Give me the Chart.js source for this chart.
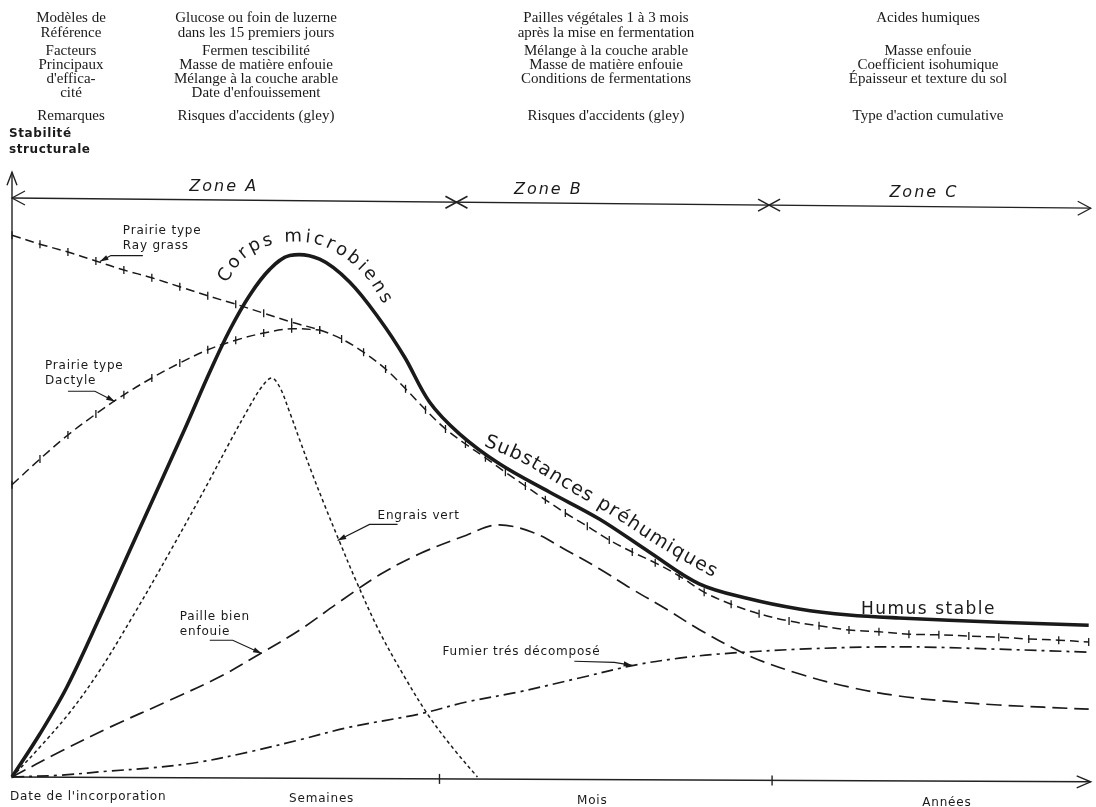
<!DOCTYPE html>
<html lang="fr">
<head>
<meta charset="utf-8">
<script src="https://cdn.jsdelivr.net/npm/chart.js@4"></script>
<style>
  html, body { margin: 0; padding: 0; background: #fff; }
  #wrap { width: 1096px; height: 807px; position: relative; }
</style>
</head>
<body>
<div id="wrap"><canvas id="chart"></canvas></div>
<script>
// x: time since incorporation (arbitrary units), y: stabilité structurale (0-100)

// Corps microbiens -> Substances préhumiques -> Humus stable (thick solid)
const microbesX = [0, 2.8, 5.5, 8.8, 11.8, 14.8, 17.3, 19.8, 21.8, 23.8, 25.8, 27.8, 30.8, 33.8, 36.8, 39.3, 41.8, 44.8, 48.8, 53.8, 58.8, 63.8, 68.8, 73.8, 78.8, 83.8, 88.8, 98.8, 107.8];
const microbesY = [0, 7.2, 15, 26.7, 37.8, 48.8, 58, 67.5, 74.5, 80.3, 84.6, 86.9, 86.3, 82.5, 76.3, 70, 62.5, 57.2, 52.2, 47.5, 43, 37.5, 32.2, 29.7, 28, 27, 26.5, 25.8, 25.3];

// Prairie type Ray grass (dashed with ticks)
const ryeGrassX = [0, 2.8, 5.6, 8.4, 11.2, 14, 16.8, 19.6, 22.4, 25.2, 28, 30.8,
  33, 35.2, 37.4, 39.4, 41.4, 43.4, 45.4, 47.4, 49.4, 51.4, 53.4, 55.4, 57.6, 59.8, 62.1, 64.4, 66.8, 69.3,
  72, 74.8, 77.8, 80.8, 83.8, 86.8, 89.8, 92.8, 95.8, 98.8, 101.8, 104.8, 107.8];
const ryeGrassY = [90.3, 88.8, 87.5, 86, 84.5, 83.2, 81.7, 80.2, 78.8, 77.3, 75.8, 74.5,
  73, 70.8, 68, 64.7, 61.2, 58, 55.5, 53.2, 50.8, 48.5, 46.2, 44, 41.8, 39.5, 37.5, 35.7, 33.5, 30.8,
  28.8, 27.2, 26, 25.2, 24.5, 24.2, 23.8, 23.7, 23.5, 23.3, 23, 22.8, 22.5];

// Prairie type Dactyle (joins Ray grass)
const dactyleX = [0, 2.8, 5.6, 8.4, 11.2, 14, 16.8, 19.6, 22.4, 25.2, 28, 30.8];
const dactyleY = [48.7, 53, 57, 60.5, 63.7, 66.5, 69, 71.2, 72.8, 74, 74.7, 74.5];

// Engrais vert (dotted)
const engraisX = [0, 2.8, 5.8, 8.8, 12.1, 15.8, 19.3, 21.8, 23.8, 25, 26, 26.8, 27.8, 28.8, 30, 31.3, 32.8, 34.5, 36.8, 39.3, 41.8, 44.3, 46.6];
const engraisY = [0, 5, 10.8, 17.8, 26.8, 37.5, 48, 55.8, 61.8, 65, 66.5, 65, 60.8, 56.2, 50.8, 45.3, 39.2, 32.5, 24.2, 16.7, 10, 4.5, 0];

// Paille bien enfouie (long dashes)
const pailleX = [0, 4.8, 9.8, 15.8, 20.8, 24.8, 28.8, 32.8, 36.8, 40.8, 45.5, 48.5, 52.1, 55.5, 58.8, 62.1, 65.5, 68.8, 73.8, 78.8, 83.8, 88.8, 93.8, 98.8, 107.8];
const pailleY = [0, 4.2, 8.3, 12.8, 16.7, 20.5, 24.5, 29.2, 33.7, 37.2, 40.3, 42, 40.8, 37.8, 34.7, 31.3, 28, 24.6, 20.2, 17.2, 15, 13.5, 12.6, 12, 11.3];

// Fumier très décomposé (dash-dot)
const fumierX = [0, 4.8, 9.8, 13.8, 18.8, 23.8, 28.8, 33.8, 40.8, 45.5, 50.8, 56.8, 62.5, 66.8, 70.8, 78.8, 88.8, 98.8, 107.8];
const fumierY = [0, 0.3, 1, 1.5, 2.5, 4.2, 6.2, 8.3, 10.5, 12.5, 14.2, 16.5, 18.7, 19.8, 20.5, 21.3, 21.7, 21.3, 20.8];

// time axis: period labels and the two boundary ticks
const periodLabels = ["Date de l'incorporation", 'Semaines', 'Mois', 'Années'];
const periodLabelX = [0, 31, 58.1, 93.6];
const periodBounds = [42.8, 76.1];

// zones
const zoneLabels = ['Zone A', 'Zone B', 'Zone C'];
const zoneLabelX = [21.2, 53.7, 91.3];
const zoneBounds = [44.5, 75.8];

// header table
const headerCol1 = ['Modèles de', 'Référence', 'Facteurs', 'Principaux', "d'effica-", 'cité', 'Remarques'];
const headerCol2 = ['Glucose ou foin de luzerne', 'dans les 15 premiers jours', 'Fermen tescibilité', 'Masse de matière enfouie', 'Mélange à la couche arable', "Date d'enfouissement", "Risques d'accidents (gley)"];
const headerCol3 = ['Pailles végétales 1 à 3 mois', 'après la mise en fermentation', 'Mélange à la couche arable', 'Masse de matière enfouie', 'Conditions de fermentations', '', "Risques d'accidents (gley)"];
const headerCol4 = ['Acides humiques', '', 'Masse enfouie', 'Coefficient isohumique', 'Épaisseur et texture du sol', '', "Type d'action cumulative"];

const xy = (xs, ys) => xs.map((x, i) => ({ x: x, y: ys[i] }));

const INK = '#1a1a1a';
const SANS = '"DejaVu Sans", sans-serif';

function pt(chart, x, y) {
  return [chart.scales.x.getPixelForValue(x), chart.scales.y.getPixelForValue(y)];
}

function line(ctx, pts) {
  ctx.beginPath();
  ctx.moveTo(pts[0][0], pts[0][1]);
  for (let i = 1; i < pts.length; i++) ctx.lineTo(pts[i][0], pts[i][1]);
  ctx.stroke();
}

// leader line ending in a small filled arrow
function leader(chart, pts) {
  const ctx = chart.ctx;
  const p = pts.map(q => pt(chart, q[0], q[1]));
  ctx.lineWidth = 1.1;
  line(ctx, p);
  const a = p[p.length - 1], b = p[p.length - 2];
  const ang = Math.atan2(a[1] - b[1], a[0] - b[0]);
  ctx.beginPath();
  ctx.moveTo(a[0], a[1]);
  ctx.lineTo(a[0] - 9 * Math.cos(ang - 0.3), a[1] - 9 * Math.sin(ang - 0.3));
  ctx.lineTo(a[0] - 9 * Math.cos(ang + 0.3), a[1] - 9 * Math.sin(ang + 0.3));
  ctx.closePath();
  ctx.fill();
}

// write text along a smooth path, spread to fill it
function textOnPath(chart, text, anchors, font) {
  const ctx = chart.ctx;
  const p = anchors.map(q => pt(chart, q[0], q[1]));
  const dense = [];
  for (let i = 0; i < p.length - 1; i++) {
    const p0 = p[Math.max(i - 1, 0)], p1 = p[i], p2 = p[i + 1], p3 = p[Math.min(i + 2, p.length - 1)];
    for (let k = 0; k < 20; k++) {
      const t = k / 20, t2 = t * t, t3 = t2 * t;
      const f = (a, b, c, d) => 0.5 * (2 * b + (-a + c) * t + (2 * a - 5 * b + 4 * c - d) * t2 + (-a + 3 * b - 3 * c + d) * t3);
      dense.push([f(p0[0], p1[0], p2[0], p3[0]), f(p0[1], p1[1], p2[1], p3[1])]);
    }
  }
  dense.push(p[p.length - 1]);
  const cum = [0];
  for (let i = 1; i < dense.length; i++) {
    cum.push(cum[i - 1] + Math.hypot(dense[i][0] - dense[i - 1][0], dense[i][1] - dense[i - 1][1]));
  }
  const total = cum[cum.length - 1];
  const at = s => {
    let i = 1;
    while (i < cum.length - 1 && cum[i] < s) i++;
    const a = dense[i - 1], b = dense[i];
    const t = (s - cum[i - 1]) / ((cum[i] - cum[i - 1]) || 1);
    return [a[0] + (b[0] - a[0]) * t, a[1] + (b[1] - a[1]) * t, Math.atan2(b[1] - a[1], b[0] - a[0])];
  };
  ctx.font = font;
  ctx.letterSpacing = '0px';
  ctx.textAlign = 'center';
  ctx.textBaseline = 'alphabetic';
  const chars = [...text];
  const widths = chars.map(c => ctx.measureText(c).width);
  const sum = widths.reduce((a, b) => a + b, 0);
  const gap = (total - sum) / (chars.length - 1);
  let s = 0;
  chars.forEach((c, i) => {
    const q = at(s + widths[i] / 2);
    ctx.save();
    ctx.translate(q[0], q[1]);
    ctx.rotate(q[2]);
    ctx.fillText(c, 0, 0);
    ctx.restore();
    s += widths[i] + gap;
  });
}

function label(chart, text, x, y, font, spacing, align) {
  const ctx = chart.ctx;
  const p = pt(chart, x, y);
  ctx.font = font;
  ctx.letterSpacing = spacing || '0px';
  ctx.textAlign = align || 'left';
  ctx.textBaseline = 'alphabetic';
  ctx.fillText(text, p[0], p[1]);
}

const drawing = {
  id: 'drawing',
  beforeDatasetsDraw(chart) {
    const ctx = chart.ctx;
    ctx.save();
    ctx.strokeStyle = '#222';
    ctx.fillStyle = INK;
    ctx.lineWidth = 1.4;

    // stabilité axis
    const yTop = pt(chart, 0, 100.8);
    line(ctx, [pt(chart, 0, -0.2), yTop]);
    line(ctx, [[yTop[0] - 5, yTop[1] + 13], yTop, [yTop[0] + 5, yTop[1] + 13]]);

    // time axis (slightly skewed like the scan)
    const slope = -0.8 / 108;
    const xEnd = pt(chart, 108, -0.8);
    line(ctx, [pt(chart, 0, 0), xEnd]);
    line(ctx, [[xEnd[0] - 14, xEnd[1] - 6], xEnd, [xEnd[0] - 14, xEnd[1] + 6]]);
    periodBounds.forEach(b => {
      const p = pt(chart, b, b * slope);
      line(ctx, [[p[0], p[1] - 5], [p[0], p[1] + 5]]);
    });

    // zone line
    const zSlope = -1.7 / 108;
    const z0 = pt(chart, 0, 96.5), z1 = pt(chart, 108, 96.5 - 1.7);
    ctx.lineWidth = 1.3;
    line(ctx, [z0, z1]);
    line(ctx, [[z0[0] + 13, z0[1] - 7], z0, [z0[0] + 13, z0[1] + 7]]);
    line(ctx, [[z1[0] - 13, z1[1] - 7], z1, [z1[0] - 13, z1[1] + 7]]);
    ctx.lineWidth = 1.6;
    zoneBounds.forEach(b => {
      const p = pt(chart, b, 96.5 + b * zSlope);
      line(ctx, [[p[0] - 11, p[1] - 6], [p[0] + 11, p[1] + 6]]);
      line(ctx, [[p[0] - 11, p[1] + 6], [p[0] + 11, p[1] - 6]]);
    });
    ctx.restore();
  },
  afterDatasetsDraw(chart) {
    const ctx = chart.ctx;
    ctx.save();
    ctx.fillStyle = INK;
    ctx.strokeStyle = INK;

    // header table (serif, centred columns)
    const rows = [18, 33, 51, 65, 79, 93, 116];
    const cols = [[headerCol1, 71], [headerCol2, 256], [headerCol3, 606], [headerCol4, 928]];
    ctx.font = '15px "Liberation Serif", serif';
    ctx.textAlign = 'center';
    ctx.textBaseline = 'middle';
    cols.forEach(c => c[0].forEach((t, i) => { if (t) ctx.fillText(t, c[1], rows[i]); }));

    ctx.font = 'bold 12px ' + SANS;
    ctx.letterSpacing = '0.6px';
    ctx.textAlign = 'left';
    ctx.fillText('Stabilité', 9, 134);
    ctx.fillText('structurale', 9, 150);

    // zone names
    zoneLabels.forEach((z, i) => label(chart, z, zoneLabelX[i], 97.6 - i * 0.5, 'italic 16px ' + SANS, '2px', 'center'));

    // period labels under the time axis
    periodLabels.forEach((t, i) => {
      const p = pt(chart, periodLabelX[i], 0);
      ctx.font = '12px ' + SANS;
      ctx.letterSpacing = '0.8px';
      ctx.textAlign = i === 0 ? 'left' : 'center';
      ctx.textBaseline = 'alphabetic';
      ctx.fillText(t, i === 0 ? p[0] - 2 : p[0], p[1] + 23 + i * 2);
    });

    // curve names
    const small = '12px ' + SANS;
    label(chart, 'Prairie type', 11.1, 90.5, small, '0.8px');
    label(chart, 'Ray grass', 11.1, 88, small, '0.8px');
    leader(chart, [[13.1, 86.9], [9.9, 86.9], [8.8, 85.9]]);
    label(chart, 'Prairie type', 3.3, 68, small, '0.8px');
    label(chart, 'Dactyle', 3.3, 65.5, small, '0.8px');
    leader(chart, [[5.6, 64.3], [8.3, 64.3], [10.3, 62.6]]);
    label(chart, 'Engrais vert', 36.6, 43, small, '0.8px');
    leader(chart, [[38.6, 42.1], [35.8, 42.1], [32.6, 39.4]]);
    label(chart, 'Paille bien', 16.8, 26.2, small, '0.8px');
    label(chart, 'enfouie', 16.8, 23.7, small, '0.8px');
    leader(chart, [[19.8, 22.8], [22.1, 22.8], [25, 20.6]]);
    label(chart, 'Fumier trés décomposé', 43.1, 20.4, small, '0.8px');
    leader(chart, [[56.3, 19.3], [60.3, 19.1], [62.1, 18.6]]);
    label(chart, 'Humus stable', 85, 27.2, '17px ' + SANS, '1.5px');

    textOnPath(chart, 'Corps microbiens',
      [[21.5, 82.3], [23, 86], [25, 88.2], [27.8, 89.2], [30.8, 88.7], [33.4, 86.4], [35.5, 83.2], [37.2, 78.8]],
      '18px ' + SANS);
    textOnPath(chart, 'Substances préhumiques',
      [[47.2, 55.2], [51, 52.5], [55, 48.5], [60, 43.6], [65, 38.2], [70.2, 33.3]],
      '19px ' + SANS);
    ctx.restore();
  }
};

const common = { pointRadius: 0, fill: false, clip: false, tension: 0.35, borderColor: INK };
const ticked = { pointStyle: 'line', pointRotation: 90, pointRadius: 4, pointBorderWidth: 1.3, pointBorderColor: INK, pointBackgroundColor: INK };

new Chart(document.getElementById('chart'), {
  type: 'line',
  data: {
    datasets: [
      Object.assign({}, common, { label: 'Corps microbiens / Substances préhumiques / Humus stable', data: xy(microbesX, microbesY), borderWidth: 3.6 }),
      Object.assign({}, common, ticked, { label: 'Prairie type Ray grass', data: xy(ryeGrassX, ryeGrassY), borderWidth: 1.5, borderDash: [9, 5] }),
      Object.assign({}, common, ticked, { label: 'Prairie type Dactyle', data: xy(dactyleX, dactyleY), borderWidth: 1.5, borderDash: [9, 5] }),
      Object.assign({}, common, { label: 'Engrais vert', data: xy(engraisX, engraisY), borderWidth: 1.5, borderDash: [3.5, 3] }),
      Object.assign({}, common, { label: 'Paille bien enfouie', data: xy(pailleX, pailleY), borderWidth: 1.7, borderDash: [15, 7] }),
      Object.assign({}, common, { label: 'Fumier trés décomposé', data: xy(fumierX, fumierY), borderWidth: 1.7, borderDash: [12, 5, 3, 5] })
    ]
  },
  options: {
    animation: false,
    responsive: true,
    maintainAspectRatio: false,
    events: [],
    layout: { padding: { left: 12, right: 4, top: 177, bottom: 30 } },
    scales: {
      x: { type: 'linear', min: 0, max: 108, display: false },
      y: { type: 'linear', min: 0, max: 100, display: false }
    },
    plugins: { legend: { display: false }, tooltip: { enabled: false } }
  },
  plugins: [drawing]
});
</script>
</body>
</html>
